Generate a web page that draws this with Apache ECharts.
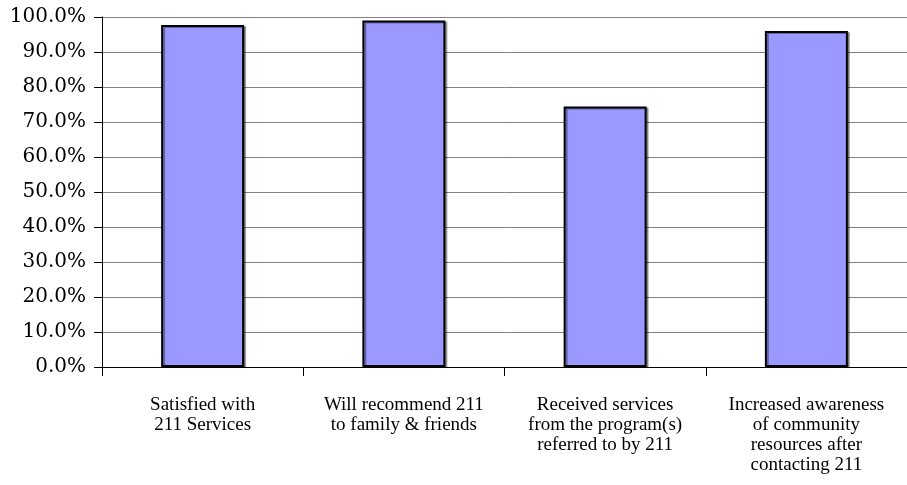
<!DOCTYPE html>
<html><head><meta charset="utf-8">
<script src="https://cdn.jsdelivr.net/npm/echarts@6/dist/echarts.min.js"></script>
<style>html,body{margin:0;padding:0;background:#fff}#c{width:907px;height:485px}</style>
</head><body><div id="c"></div>
<script>
const categories = [
  "Satisfied with\n211 Services",
  "Will recommend 211\nto family & friends",
  "Received services\nfrom the program(s)\nreferred to by 211",
  "Increased awareness\nof community\nresources after\ncontacting 211"
];
const values = [97.7, 99.0, 74.4, 96.0];
const yTicks = [0, 10, 20, 30, 40, 50, 60, 70, 80, 90, 100];

const chart = echarts.init(document.getElementById('c'));
chart.setOption({
  animation: false,
  grid: { left: 102, right: -9, top: 17, bottom: 118 },
  xAxis: {
    type: 'category', data: categories,
    axisLine: { lineStyle: { color: '#000', width: 1 } },
    axisTick: { show: true, length: 9, lineStyle: { color: '#000' } },
    axisLabel: { margin: 28, interval: 0, fontFamily: 'Liberation Serif', fontSize: 19, color: '#000', lineHeight: 20 }
  },
  yAxis: {
    type: 'value', min: yTicks[0], max: yTicks[yTicks.length - 1], interval: 10,
    axisLine: { show: true, lineStyle: { color: '#000', width: 1 } },
    axisTick: { show: true, length: 8, lineStyle: { color: '#000' } },
    splitLine: { lineStyle: { color: '#808080', width: 1 } },
    axisLabel: { margin: 16, fontFamily: 'DejaVu Serif', fontSize: 20, color: '#000',
      formatter: v => v.toFixed(1) + '%' }
  },
  series: [{
    type: 'bar', data: values, barWidth: 83,
    itemStyle: { color: '#9999FF', borderColor: '#000', borderWidth: 2,
      shadowColor: 'rgba(0,0,0,0.35)', shadowOffsetX: 2, shadowOffsetY: 1, shadowBlur: 0 }
  }]
});
</script></body></html>
